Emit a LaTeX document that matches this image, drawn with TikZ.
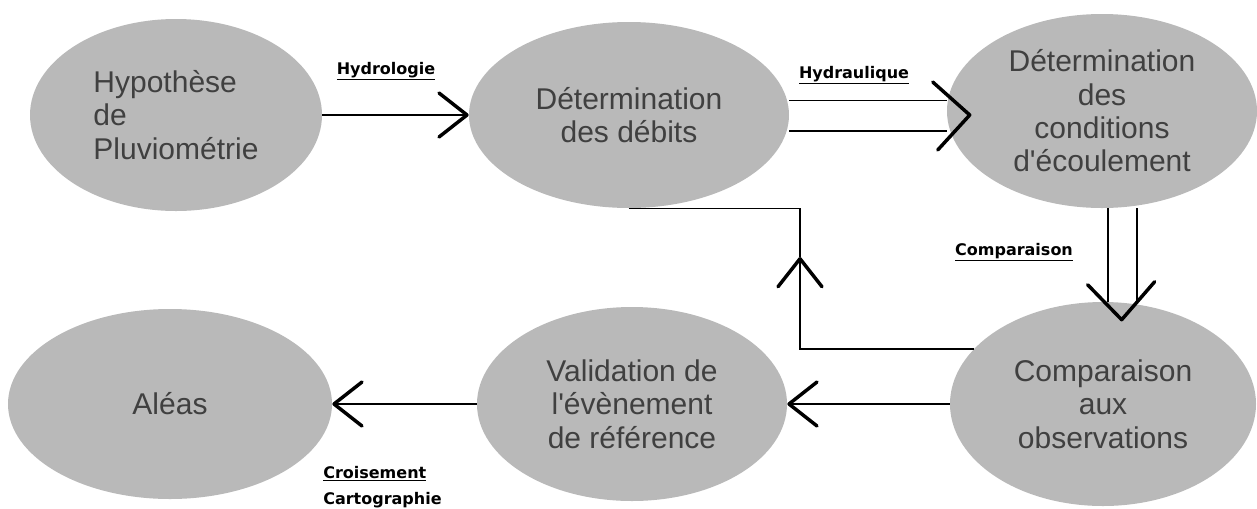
\documentclass[tikz,border=0pt]{standalone}
\usepackage{fontspec}
\setmainfont{Liberation Sans}
\newfontfamily\etiquettefont{DejaVu Sans}
\usepackage{tikz}
\usetikzlibrary{shapes.geometric,arrows.meta}

\tikzset{
  bulle/.style={ellipse, fill=gray!55, inner sep=0pt, align=center, text=black!75,
    font=\fontsize{22.5}{25}\selectfont},
  lien/.style={line width=1pt},
  fleche/.style={lien, -{Straight Barb[length=21pt, width=33pt, line width=2.6pt, round]}},
  pointe/.style={line width=2.6pt, line cap=round, line join=round},
  etiquette/.style={font=\etiquettefont\bfseries\fontsize{12}{14}\selectfont, inner sep=0pt}
}

\begin{document}
\begin{tikzpicture}[x=0.75pt,y=0.75pt,yscale=-1,xscale=1]
\useasboundingbox (0,0) rectangle (1257,508);

% ellipses du haut
\node[bulle, align=left, minimum width=219pt, minimum height=144pt] (hypo) at (176,115) {Hypothèse\\de\\Pluviométrie};
\node[bulle, minimum width=240pt, minimum height=139.5pt] (debits) at (629,115) {Détermination\\des débits};
\node[bulle, minimum width=232.5pt, minimum height=145.5pt] (ecoul) at (1102,111) {Détermination\\des\\conditions\\d\textquotesingle écoulement};

% ellipses du bas
\node[bulle, minimum width=229.5pt, minimum height=153pt] (obs) at (1103,404) {Comparaison\\aux\\observations};
\node[bulle, minimum width=232.5pt, minimum height=145.5pt] (valid) at (632,404) {Validation de\\l\textquotesingle évènement\\de référence};
\node[bulle, minimum width=243pt, minimum height=142.5pt] (aleas) at (170,404) {Aléas};

% Hydrologie
\draw[fleche] (hypo.east) -- (debits.west);

% Hydraulique (double trait)
\draw[lien] ([yshift=12pt]debits.east) -- ([yshift=12pt]debits.east -| ecoul.west);
\draw[lien] ([yshift=-11pt]debits.east) -- ([yshift=-11pt]debits.east -| ecoul.west);
\coordinate (pointeH) at (ecoul.west |- debits.east);
\draw[pointe] (pointeH) ++(-14,-33) -- ++(37,33) -- ++(-32,35);

% Comparaison (double trait)
\draw[lien] ([xshift=4.5pt]ecoul.south) -- ([xshift=4.5pt]ecoul.south |- obs.north);
\draw[lien] ([xshift=26.25pt]ecoul.south) -- ([xshift=26.25pt]ecoul.south |- obs.north);
\coordinate (pointeC) at ([xshift=14pt]obs.north);
\draw[pointe] (pointeC) ++(-34,-17) -- ++(34,35) -- ++(33,-38);

% retour vers les debits
\coordinate (retour) at (800,257);
\draw[fleche] (obs.157) -| (retour);
\draw[lien] (retour) |- (debits.south);

\draw[fleche] (obs.west) -- (valid.east);
\draw[fleche] (valid.west) -- (aleas.east);

% etiquettes
\node[etiquette] (hydrol) at (386,71) {\underline{Hydrologie}};
\node[etiquette] (hydrau) at (854,75) {\underline{Hydraulique}};
\node[etiquette] (compar) at (1014,252) {\underline{Comparaison}};
\node[etiquette, anchor=west] (crois) at (323,474) {\underline{Croisement}};
\node[etiquette, anchor=west] (carto) at (323,500) {Cartographie};

\end{tikzpicture}
\end{document}
